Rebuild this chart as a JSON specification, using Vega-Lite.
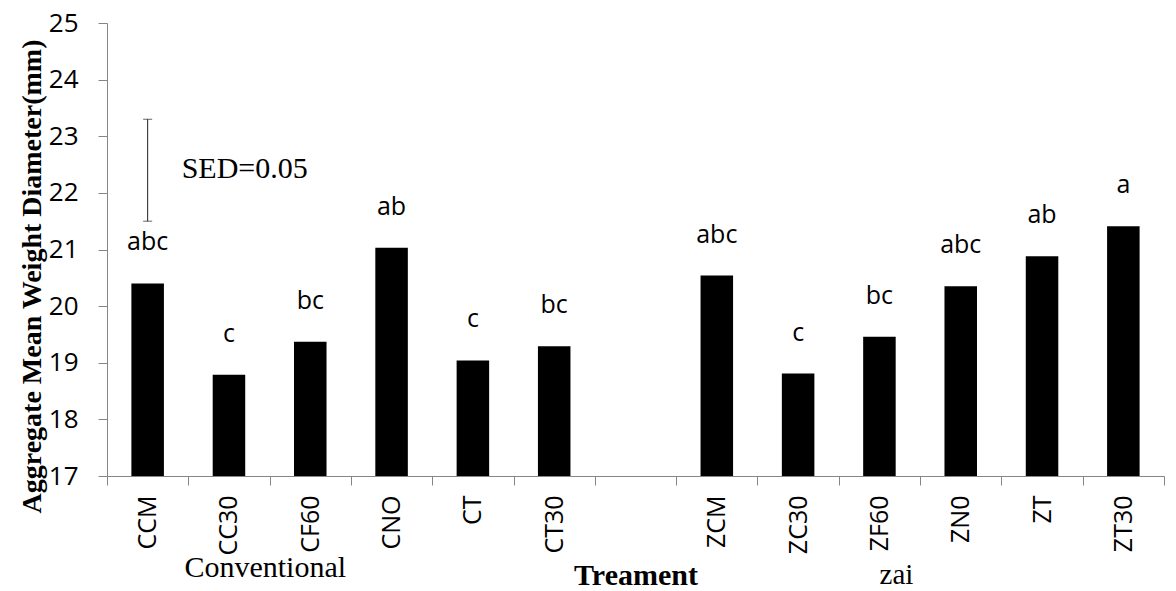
{
  "$schema": "https://vega.github.io/schema/vega-lite/v6.json",
  "width": 1057,
  "height": 453,
  "autosize": "none",
  "padding": {"left": 107, "top": 23, "right": 12, "bottom": 115},
  "background": "white",
  "config": {"view": {"stroke": null}},
  "datasets": {
    "bars": [
      {"t": "CCM", "v": 20.40, "letter": "abc"},
      {"t": "CC30", "v": 18.79, "letter": "c"},
      {"t": "CF60", "v": 19.37, "letter": "bc"},
      {"t": "CNO", "v": 21.03, "letter": "ab"},
      {"t": "CT", "v": 19.04, "letter": "c"},
      {"t": "CT30", "v": 19.29, "letter": "bc"},
      {"t": "ZCM", "v": 20.54, "letter": "abc"},
      {"t": "ZC30", "v": 18.81, "letter": "c"},
      {"t": "ZF60", "v": 19.46, "letter": "bc"},
      {"t": "ZN0", "v": 20.35, "letter": "abc"},
      {"t": "ZT", "v": 20.88, "letter": "ab"},
      {"t": "ZT30", "v": 21.41, "letter": "a"}
    ],
    "sed": [{"t": "CCM", "lo": 21.5, "hi": 23.3, "label": "SED=0.05"}],
    "conv": [{"t": "CF60", "g": "Conventional"}],
    "zai": [{"t": "ZF60", "g": "zai"}]
  },
  "layer": [
    {
      "data": {"name": "bars"},
      "mark": {"type": "bar", "color": "black", "width": {"band": 0.4}},
      "encoding": {
        "x": {
          "field": "t", "type": "nominal", "sort": null,
          "scale": {"domain": ["CCM", "CC30", "CF60", "CNO", "CT", "CT30", " ", "ZCM", "ZC30", "ZF60", "ZN0", "ZT", "ZT30"], "paddingInner": 0, "paddingOuter": 0},
          "axis": {
            "title": "Treament", "titleFont": "Liberation Serif", "titleFontWeight": "bold", "titleFontSize": 30, "titleColor": "black",
            "titleY": 108, "titleBaseline": "alphabetic",
            "labelAngle": 270, "labelAlign": "right", "labelBaseline": "middle",
            "labelFont": "Open Sans", "labelFontSize": 25, "labelColor": "black", "labelPadding": 10,
            "tickSize": 9, "tickBand": "extent", "domainColor": "#868686", "tickColor": "#868686", "labelOverlap": false
          }
        },
        "y": {
          "field": "v", "type": "quantitative",
          "scale": {"domain": [17, 25], "nice": false, "zero": false},
          "axis": {
            "values": [17, 18, 19, 20, 21, 22, 23, 24, 25], "format": "d", "grid": false,
            "title": "Aggregate Mean Weight Diameter(mm)", "titleFont": "Liberation Serif", "titleFontWeight": "bold", "titleFontSize": 28, "titleColor": "black",
            "titleX": -67, "titleY": 253, "titleAngle": 270, "titleAlign": "center", "titleBaseline": "alphabetic",
            "labelFont": "Open Sans", "labelFontSize": 26, "labelColor": "black", "labelPadding": 20,
            "tickSize": 9, "domainColor": "#868686", "tickColor": "#868686"
          }
        },
        "y2": {"datum": 17}
      }
    },
    {
      "data": {"name": "bars"},
      "mark": {"type": "text", "font": "Open Sans", "fontSize": 25, "baseline": "alphabetic", "align": "center", "dy": -33, "color": "black"},
      "encoding": {
        "x": {"field": "t", "type": "nominal"},
        "y": {"field": "v", "type": "quantitative"},
        "text": {"field": "letter"}
      }
    },
    {
      "data": {"name": "sed"},
      "mark": {"type": "rule", "color": "#222222", "strokeWidth": 1},
      "encoding": {
        "x": {"field": "t", "type": "nominal"},
        "y": {"field": "lo", "type": "quantitative"},
        "y2": {"field": "hi"}
      }
    },
    {
      "data": {"name": "sed"},
      "mark": {"type": "tick", "color": "#222222", "size": 9, "thickness": 1},
      "encoding": {
        "x": {"field": "t", "type": "nominal"},
        "y": {"field": "lo", "type": "quantitative"}
      }
    },
    {
      "data": {"name": "sed"},
      "mark": {"type": "tick", "color": "#222222", "size": 9, "thickness": 1},
      "encoding": {
        "x": {"field": "t", "type": "nominal"},
        "y": {"field": "hi", "type": "quantitative"}
      }
    },
    {
      "data": {"name": "sed"},
      "mark": {"type": "text", "font": "Liberation Serif", "fontSize": 30, "align": "left", "baseline": "alphabetic", "dx": 34, "color": "black"},
      "encoding": {
        "x": {"field": "t", "type": "nominal"},
        "y": {"datum": 22.26},
        "text": {"field": "label"}
      }
    },
    {
      "data": {"name": "conv"},
      "mark": {"type": "text", "font": "Liberation Serif", "fontSize": 30, "align": "center", "baseline": "alphabetic", "dx": -45, "dy": 101, "color": "black"},
      "encoding": {
        "x": {"field": "t", "type": "nominal"},
        "y": {"datum": 17},
        "text": {"field": "g"}
      }
    },
    {
      "data": {"name": "zai"},
      "mark": {"type": "text", "font": "Liberation Serif", "fontSize": 29, "align": "center", "baseline": "alphabetic", "dx": 17, "dy": 108, "color": "black"},
      "encoding": {
        "x": {"field": "t", "type": "nominal"},
        "y": {"datum": 17},
        "text": {"field": "g"}
      }
    }
  ]
}
